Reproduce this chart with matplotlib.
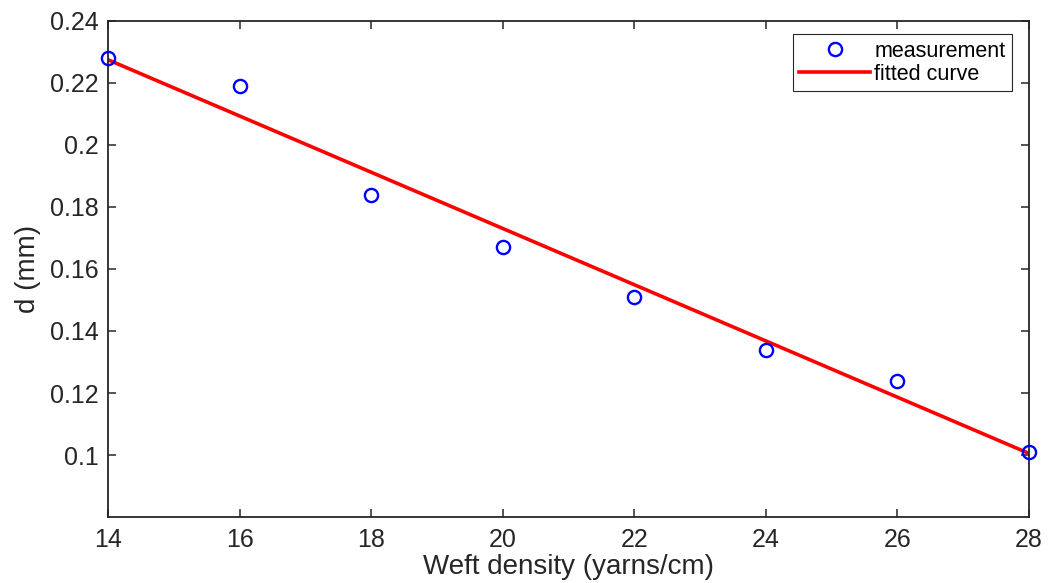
import matplotlib
matplotlib.use('Agg')
import matplotlib.pyplot as plt

# measured points
weft_density = [14, 16, 18, 20, 22, 24, 26, 28]
d_measured = [0.228, 0.219, 0.184, 0.167, 0.151, 0.134, 0.124, 0.101]

# fitted line endpoints
fit_x = [14, 28]
fit_y = [0.2275, 0.1005]

plt.rcParams['font.family'] = ['Liberation Sans', 'DejaVu Sans']

fig = plt.figure(figsize=(10.59, 5.83), dpi=100)
ax = fig.add_axes([0.102, 0.1132, 0.8697, 0.8508])

ax.plot(weft_density, d_measured, 'o', mfc='none', mec='blue', ms=9.5, mew=1.7,
        label='measurement', clip_on=False, zorder=3)
ax.plot(fit_x, fit_y, '-', color='red', lw=2.6, label='fitted curve', zorder=2)

ax.set_xlim(14, 28)
ax.set_ylim(0.08, 0.24)
ax.set_xticks(range(14, 29, 2))
ax.set_yticks([0.1, 0.12, 0.14, 0.16, 0.18, 0.2, 0.22, 0.24])
ax.set_yticklabels(['0.1', '0.12', '0.14', '0.16', '0.18', '0.2', '0.22', '0.24'])

ax.tick_params(direction='in', top=True, right=True, length=6, width=1.1,
               labelsize=18, colors='#262626')
ax.tick_params(axis='x', pad=8)
ax.tick_params(axis='y', pad=7)
for sp in ax.spines.values():
    sp.set_linewidth(1.3)
    sp.set_color('#262626')

ax.set_xlabel('Weft density (yarns/cm)', fontsize=20, color='#262626', labelpad=1)
ax.set_ylabel('d (mm)', fontsize=20, color='#262626', labelpad=6)

leg = ax.legend(loc='upper right', bbox_to_anchor=(0.9815, 0.973), fontsize=15.5,
                fancybox=False, framealpha=1, edgecolor='#262626',
                handlelength=3.3, handletextpad=0.2, borderpad=0.3,
                labelspacing=0.08, borderaxespad=0)
leg.get_frame().set_linewidth(0.8)

fig.savefig('out.png', dpi=100)
